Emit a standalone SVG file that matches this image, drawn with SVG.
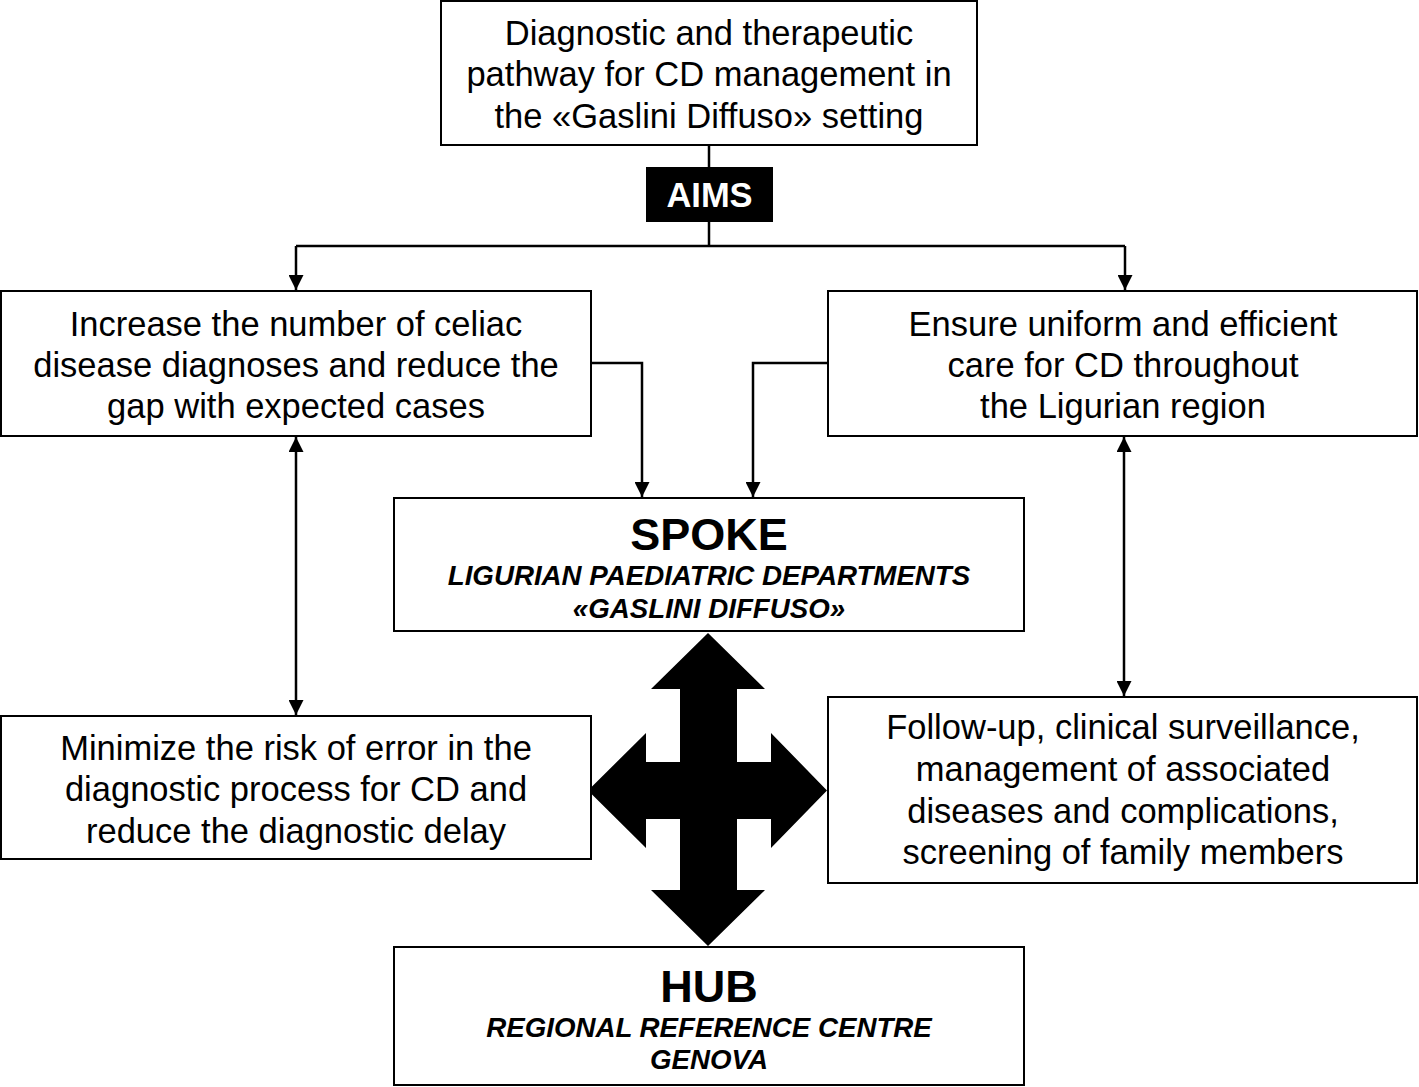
<svg xmlns="http://www.w3.org/2000/svg" width="1419" height="1087" viewBox="0 0 1419 1087">
<style>
.box{fill:#fff;stroke:#000;stroke-width:2}
.t{font-family:"Liberation Sans",Arial,sans-serif;font-size:34.5px;text-anchor:middle;fill:#000}
.big{font-family:"Liberation Sans",Arial,sans-serif;font-size:45px;font-weight:bold;text-anchor:middle;fill:#000}
.sub{font-family:"Liberation Sans",Arial,sans-serif;font-size:27.7px;font-weight:bold;font-style:italic;text-anchor:middle;fill:#000}
.ln{fill:none;stroke:#000;stroke-width:2.5}
</style>
<defs>
<marker id="ah" viewBox="0 0 10 10" refX="10" refY="5" markerWidth="15" markerHeight="15" markerUnits="userSpaceOnUse" orient="auto-start-reverse">
<path d="M0,0 L10,5 L0,10 Z" fill="#000"/>
</marker>
</defs>
<rect width="1419" height="1087" fill="#fff"/>
<g id="connectors">
<path class="ln" d="M709,145 V167"/>
<path class="ln" d="M709,222 V246"/>
<path class="ln" d="M296,246 H1125"/>
<path class="ln" d="M296,246 V290" marker-end="url(#ah)"/>
<path class="ln" d="M1125,246 V290" marker-end="url(#ah)"/>
<path class="ln" d="M591,363 H642 V497" marker-end="url(#ah)"/>
<path class="ln" d="M828,363 H753 V497" marker-end="url(#ah)"/>
<path class="ln" d="M296,437 V715" marker-start="url(#ah)" marker-end="url(#ah)"/>
<path class="ln" d="M1124,437 V696" marker-start="url(#ah)" marker-end="url(#ah)"/>
<path id="cross" fill="#000" d="M708,633 L765,689 L737,689 L737,762 L771,762 L771,733 L827,790.5 L771,848 L771,819 L737,819 L737,890 L765,890 L708,946 L651,890 L680,890 L680,819 L646,819 L646,848 L588,790.5 L646,733 L646,762 L680,762 L680,689 L651,689 Z"/>
</g>
<g id="top">
<rect class="box" x="441" y="1" width="536" height="144"/>
<text class="t" x="709" y="45">Diagnostic and therapeutic</text>
<text class="t" x="709" y="86">pathway for CD management in</text>
<text class="t" x="709" y="128">the «Gaslini Diffuso» setting</text>
</g>
<g id="aims">
<rect x="646" y="167" width="127" height="55" fill="#000"/>
<text x="709.5" y="207" font-family="Liberation Sans, Arial, sans-serif" font-size="34.5" font-weight="bold" fill="#fff" text-anchor="middle">AIMS</text>
</g>
<g id="increase">
<rect class="box" x="1" y="291" width="590" height="145"/>
<text class="t" x="296" y="336">Increase the number of celiac</text>
<text class="t" x="296" y="377">disease diagnoses and reduce the</text>
<text class="t" x="296" y="418">gap with expected cases</text>
</g>
<g id="ensure">
<rect class="box" x="828" y="291" width="589" height="145"/>
<text class="t" x="1123" y="336">Ensure uniform and efficient</text>
<text class="t" x="1123" y="377">care for CD throughout</text>
<text class="t" x="1123" y="418">the Ligurian region</text>
</g>
<g id="spoke">
<rect class="box" x="394" y="498" width="630" height="133"/>
<text class="big" x="709" y="550">SPOKE</text>
<text class="sub" x="709" y="585">LIGURIAN PAEDIATRIC DEPARTMENTS</text>
<text class="sub" x="709" y="618">«GASLINI DIFFUSO»</text>
</g>
<g id="minimize">
<rect class="box" x="1" y="716" width="590" height="143"/>
<text class="t" x="296" y="760">Minimize the risk of error in the</text>
<text class="t" x="296" y="801">diagnostic process for CD and</text>
<text class="t" x="296" y="843">reduce the diagnostic delay</text>
</g>
<g id="followup">
<rect class="box" x="828" y="697" width="589" height="186"/>
<text class="t" x="1123" y="739">Follow-up, clinical surveillance,</text>
<text class="t" x="1123" y="781">management of associated</text>
<text class="t" x="1123" y="823">diseases and complications,</text>
<text class="t" x="1123" y="864">screening of family members</text>
</g>
<g id="hub">
<rect class="box" x="394" y="947" width="630" height="138"/>
<text class="big" x="709" y="1002">HUB</text>
<text class="sub" x="709" y="1037">REGIONAL REFERENCE CENTRE</text>
<text class="sub" x="709" y="1069">GENOVA</text>
</g>
</svg>
